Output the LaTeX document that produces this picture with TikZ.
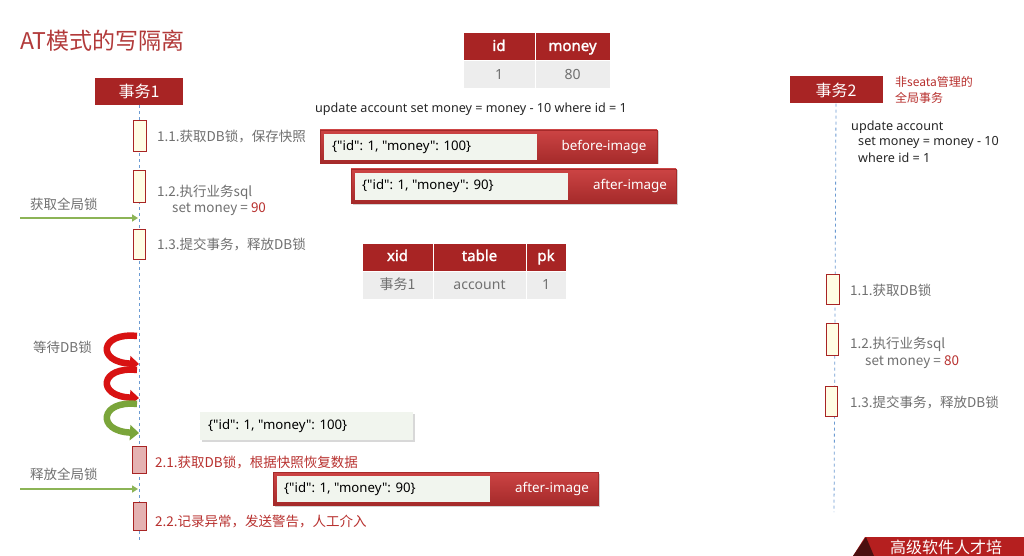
\documentclass[tikz,border=0pt]{standalone}
\usepackage{fontspec}
\setmainfont{Noto Sans CJK SC}
\newfontfamily\lat{Noto Sans}
\newfontfamily\latb{Noto Sans}[FakeBold=1.6]
\usetikzlibrary{arrows.meta,shadows}
\definecolor{hred}{HTML}{A82424}
\definecolor{tagredA}{HTML}{CC4444}
\definecolor{tagredB}{HTML}{A52A2A}
\definecolor{lfill}{HTML}{F1F5EE}
\definecolor{yfill}{HTML}{FFFDE4}
\definecolor{pfill}{HTML}{E5B2B2}
\definecolor{gtext}{HTML}{707070}
\definecolor{rtext}{HTML}{B8312F}
\definecolor{garrow}{HTML}{8CB456}
\definecolor{lline}{HTML}{6C9BD2}
\definecolor{tgray}{HTML}{EDEDED}
\definecolor{titlered}{HTML}{B23A3A}
\definecolor{curlred}{HTML}{D81212}
\definecolor{curlgreen}{HTML}{7AA53A}
\tikzset{
 lane/.style={fill=hred, text=white, minimum width=88pt, minimum height=27pt, inner sep=0pt, font=\fontsize{16}{18}\selectfont},
 act/.style={draw=hred, line width=1pt, fill=yfill, inner sep=0pt},
 actp/.style={act, fill=pfill},
 lbl/.style={anchor=west, text=gtext, inner sep=0pt, font=\fontsize{13.5}{16}\selectfont},
 rlbl/.style={lbl, text=rtext},
 sql/.style={anchor=west, text=black!85, inner sep=0pt, font=\lat\fontsize{12.6}{15}\selectfont},
 life/.style={draw=lline, dashed, line width=0.8pt},
 th/.style={fill=hred, text=white, draw=white, line width=1pt, minimum height=28pt, inner sep=0pt, text height=11pt, text depth=3pt, font=\latb\fontsize{15}{18}\selectfont},
 td/.style={fill=tgray, text=gtext, draw=white, line width=1pt, minimum height=28pt, inner sep=0pt, text height=10pt, text depth=1pt, font=\lat\fontsize{14}{18}\selectfont},
 imgouter/.style={top color=tagredA, bottom color=tagredB, draw=tagredB, inner sep=0pt, drop shadow={shadow xshift=1.5pt, shadow yshift=-1.5pt, opacity=0.35}},
 imginner/.style={fill=lfill, minimum width=213pt, minimum height=26pt, inner sep=0pt},
 json/.style={anchor=west, inner sep=0pt, text=black, font=\lat\fontsize{13.2}{15}\selectfont},
 tag/.style={text=white, inner sep=0pt, font=\lat\fontsize{13.4}{15}\selectfont},
 garr/.style={draw=garrow, line width=2.5pt, -{Triangle[length=6pt,width=7pt]}},
 curl/.style={line width=6.5pt, -{Triangle[length=9pt,width=15pt]}}
}
\begin{document}
\begin{tikzpicture}[x=1pt,y=-1pt]
\useasboundingbox (0,0) rectangle (1024,556);
\clip (0,0) rectangle (1024,556);
\fill[white] (0,0) rectangle (1024,556);

% title
\node[anchor=west, inner sep=0pt, text=titlered, font=\fontsize{23}{28}\selectfont] (title) at (20,41) {AT模式的写隔离};

% lanes
\node[lane] (t1) at (139,91.5) {事务1};
\node[lane, minimum width=93pt] (t2) at (836,90) {事务2};
\coordinate (l1end) at (139,543);
\coordinate (l2end) at (834,512);
\draw[life] (t1.south) -- (l1end);
\draw[life] (t2.south) -- (l2end);

\node[anchor=west, inner sep=0pt, text=rtext, align=left, font=\fontsize{12}{16}\selectfont] (note2) at (895,90) {非seata管理的\\全局事务};

% id/money table
\node[th, minimum width=72pt] (hid) at (499,47) {id};
\node[th, minimum width=75pt] (hmoney) at (572.5,47) {money};
\node[td, minimum width=72pt] (vid) at (499,75) {1};
\node[td, minimum width=75pt] (vmoney) at (572.5,75) {80};

\node[sql] (upd) at (315,109) {update account set money = money - 10 where id = 1};

% before-image
\node[imgouter, minimum width=337pt, minimum height=33pt] (bimg) at (488.5,146.5) {};
\node[imginner] (bjson) at (430.5,147) {};
\node[json] (bjt) at (332,147) {\{"id": 1, "money": 100\}};
\node[tag] (btag) at (604,147) {before-image};

% after-image
\node[imgouter, minimum width=325pt, minimum height=34pt] (aimg) at (513.5,186) {};
\node[imginner, minimum height=27pt] (ajson) at (461.5,186.5) {};
\node[json] (ajt) at (362,186) {\{"id": 1, "money": 90\}};
\node[tag] (atag) at (630,186) {after-image};

% lock table
\node[th, minimum width=71pt] (hxid) at (397.5,257) {xid};
\node[th, minimum width=93pt] (htable) at (479.5,257) {table};
\node[th, minimum width=40pt] (hpk) at (546,257) {pk};
\node[td, minimum width=71pt, font=\fontsize{14}{18}\selectfont] (vxid) at (397.5,285) {事务1};
\node[td, minimum width=93pt] (vtable) at (479.5,285) {account};
\node[td, minimum width=40pt] (vpk) at (546,285) {1};

% transaction 1 activations
\node[act, minimum width=13pt, minimum height=31pt] (a11) at (139.5,136) {};
\node[act, minimum width=12pt, minimum height=31pt] (a12) at (139,186.5) {};
\node[act, minimum width=12pt, minimum height=30pt] (a13) at (139,244) {};
\node[lbl] (l11) at (157,137) {1.1.获取DB锁，保存快照};
\node[lbl] (l12) at (157,192) {1.2.执行业务sql};
\node[lbl] (l12b) at (172,209) {set money = \textcolor{rtext}{90}};
\node[lbl] (l13) at (157,244) {1.3.提交事务，释放DB锁};

\node[lbl] (getg) at (30,204) {获取全局锁};
\coordinate (g1s) at (20,218);
\coordinate (g1e) at (138,218);
\draw[garr] (g1s) -- (g1e);

% waiting
\node[lbl] (wait) at (33,347) {等待DB锁};
\coordinate (c1s) at (137,336);
\coordinate (c1e) at (139,364);
\coordinate (c2s) at (137,370);
\coordinate (c2e) at (139,398);
\coordinate (c3s) at (137,404);
\coordinate (c3e) at (139,433);
\draw[curl, draw=curlred] (c1s) .. controls (100,332) and (96,362) .. (c1e);
\draw[curl, draw=curlred] (c2s) .. controls (100,366) and (96,396) .. (c2e);
\draw[curl, draw=curlgreen] (c3s) .. controls (100,400) and (96,431) .. (c3e);

\node[fill=lfill, minimum width=213pt, minimum height=28pt, inner sep=0pt, drop shadow={shadow xshift=1.5pt, shadow yshift=-1.5pt, opacity=0.3}] (j100) at (306.5,426) {};
\node[json] (j100t) at (208,426) {\{"id": 1, "money": 100\}};

\node[actp, minimum width=14pt, minimum height=27pt] (b21) at (139.5,460) {};
\node[rlbl] (l21) at (155,463) {2.1.获取DB锁，根据快照恢复数据};
\node[lbl] (relg) at (30,474) {释放全局锁};
\coordinate (g2s) at (20,489);
\coordinate (g2e) at (138,489);
\draw[garr] (g2s) -- (g2e);
\node[actp, minimum width=13pt, minimum height=28pt] (b22) at (139.5,516) {};
\node[rlbl] (l22) at (155,521) {2.2.记录异常，发送警告，人工介入};

\node[imgouter, minimum width=325pt, minimum height=33pt] (cimg) at (435.5,488.5) {};
\node[imginner] (cjson) at (383.5,489) {};
\node[json] (cjt) at (284,489) {\{"id": 1, "money": 90\}};
\node[tag] (ctag) at (552,489) {after-image};

% transaction 2
\node[sql] (r1) at (851,127) {update account};
\node[sql] (r2) at (858,142) {set money = money - 10};
\node[sql] (r3) at (858,158) {where id = 1};
\node[act, minimum width=13pt, minimum height=30pt] (c11) at (833,289) {};
\node[act, minimum width=12pt, minimum height=32pt] (c12) at (832,339) {};
\node[act, minimum width=12pt, minimum height=30pt] (c13) at (831.5,401) {};
\node[lbl] (m11) at (850,290) {1.1.获取DB锁};
\node[lbl] (m12) at (850,344) {1.2.执行业务sql};
\node[lbl] (m12b) at (865,362) {set money = \textcolor{rtext}{80}};
\node[lbl] (m13) at (850,402) {1.3.提交事务，释放DB锁};

% banner
\fill[hred!85!red] (865,537) -- (1024,537) -- (1024,556) -- (853,556) -- cycle;
\fill[black!55!hred] (853,556) -- (866,537) -- (874,556) -- cycle;
\node[anchor=west, inner sep=0pt, text=white, font=\fontsize{16}{18}\selectfont] (ban) at (890,547) {高级软件人才培};
\end{tikzpicture}
\end{document}
